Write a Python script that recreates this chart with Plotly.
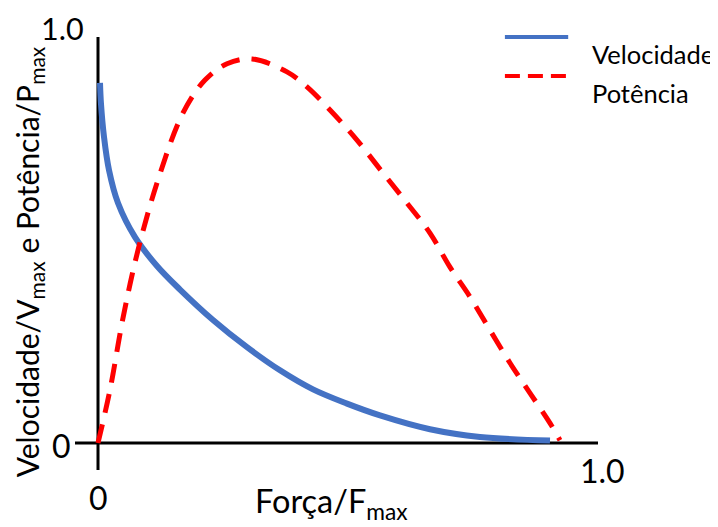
import plotly.graph_objects as go

# Data (normalized units)
vel_x = [0.004, 0.006, 0.012, 0.022, 0.040, 0.074, 0.118, 0.164, 0.230, 0.298,
         0.364, 0.430, 0.498, 0.564, 0.664, 0.764, 0.904]
vel_y = [0.887, 0.835, 0.754, 0.672, 0.591, 0.507, 0.436, 0.378, 0.303, 0.236,
         0.179, 0.132, 0.097, 0.068, 0.034, 0.015, 0.006]

pot_x = [0.0, 0.024, 0.050, 0.080, 0.120, 0.170, 0.214, 0.258, 0.308, 0.378, 0.418,
         0.464, 0.518, 0.570, 0.618, 0.664, 0.704, 0.744, 0.784, 0.824, 0.864,
         0.904, 0.924]
pot_y = [0.0, 0.131, 0.308, 0.475, 0.648, 0.813, 0.894, 0.934, 0.946, 0.914, 0.877,
         0.820, 0.746, 0.665, 0.591, 0.517, 0.433, 0.360, 0.278, 0.197, 0.123,
         0.049, 0.007]

series_names = ["Velocidade", "Potência"]
tick_labels = {"x0": "0", "x1": "1.0", "y0": "0", "y1": "1.0"}

BLUE = "#4472C4"
RED = "#FF0000"
FONT = "Lato, Carlito, Calibri, sans-serif"

fig = go.Figure()
fig.add_trace(go.Scatter(x=vel_x, y=vel_y, mode="lines", name=series_names[0],
                         line=dict(color=BLUE, width=6, shape="spline", smoothing=1.0),
                         showlegend=False))
fig.add_trace(go.Scatter(x=pot_x, y=pot_y, mode="lines", name=series_names[1],
                         line=dict(color=RED, width=5, dash="19px,12px", shape="spline"),
                         showlegend=False))

XMIN, XMAX = -0.046, 1.0
YMIN, YMAX = -0.0665, 1.0

shapes = [
    dict(type="line", xref="x", yref="y", x0=XMIN, x1=XMAX, y0=0, y1=0,
         line=dict(color="black", width=3), layer="below"),
    dict(type="line", xref="x", yref="y", x0=0, x1=0, y0=YMIN, y1=YMAX,
         line=dict(color="black", width=3), layer="below"),
    # legend samples
    dict(type="line", xref="paper", yref="paper", x0=0.822, x1=0.943, y0=1.0, y1=1.0,
         line=dict(color=BLUE, width=4)),
    dict(type="line", xref="paper", yref="paper", x0=0.822, x1=0.943, y0=0.91, y1=0.91,
         line=dict(color=RED, width=4, dash="15px,8px")),
]

annotations = [
    dict(x=0, y=0, xref="x", yref="y", text=tick_labels["x0"], showarrow=False,
         yshift=-54, font=dict(size=32, family=FONT, color="black")),
    dict(x=1.0, y=0, xref="x", yref="y", text=tick_labels["x1"], showarrow=False,
         xshift=4, yshift=-27, font=dict(size=32, family=FONT, color="black")),
    dict(x=0, y=0, xref="x", yref="y", text=tick_labels["y0"], showarrow=False,
         xshift=-37, yshift=-2, font=dict(size=32, family=FONT, color="black")),
    dict(x=0, y=1.0, xref="x", yref="y", text=tick_labels["y1"], showarrow=False,
         xshift=-36, yshift=9, font=dict(size=30.5, family=FONT, color="black")),
    dict(x=0.466, y=0, xref="x", yref="y", text="Força/F<sub>max</sub>", showarrow=False,
         yshift=-60, font=dict(size=32.5, family=FONT, color="black")),
    dict(x=XMIN, y=0.445, xref="x", yref="y",
         text="Velocidade/V<sub>max</sub> e Potência/P<sub>max</sub>",
         showarrow=False, textangle=-90, xshift=-46,
         font=dict(size=30, family=FONT, color="black")),
    dict(x=0.985, y=1.0, xref="paper", yref="paper", text=series_names[0], showarrow=False,
         xanchor="left", font=dict(size=25.5, family=FONT, color="black")),
    dict(x=0.985, y=0.91, xref="paper", yref="paper", text=series_names[1], showarrow=False,
         xanchor="left", font=dict(size=25.5, family=FONT, color="black")),
]

# The page body adds an 8px offset; size and margins compensate for it.
fig.update_layout(
    width=710, height=519,
    margin=dict(l=67, r=120, t=29, b=57, autoexpand=False),
    paper_bgcolor="white", plot_bgcolor="white",
    xaxis=dict(range=[XMIN, XMAX], visible=False),
    yaxis=dict(range=[YMIN, YMAX], visible=False),
    shapes=shapes, annotations=annotations,
    showlegend=False,
)

fig.write_html("out.html")
